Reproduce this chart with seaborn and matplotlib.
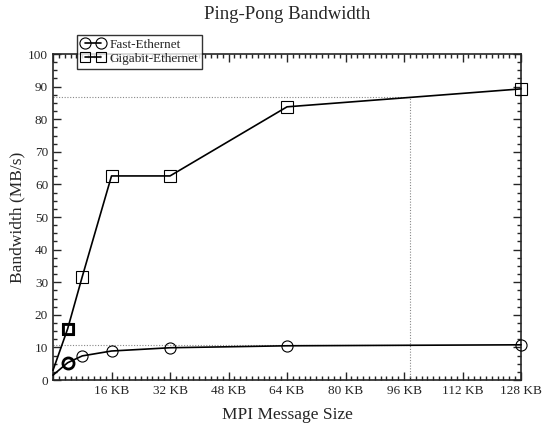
import numpy as np
import pandas as pd
import seaborn as sns
import matplotlib.pyplot as plt
from matplotlib.lines import Line2D
from matplotlib.ticker import MultipleLocator, FuncFormatter

# Message sizes in KB
sizes_kb = [0, 4, 8, 16, 32, 64, 128]
fast_ethernet = [1.5, 5.3, 7.4, 8.9, 9.9, 10.5, 10.8]
gigabit_ethernet = [3.0, 15.7, 31.7, 62.6, 62.6, 83.8, 89.3]
series_names = ["Fast-Ethernet", "Gigabit-Ethernet"]

# dotted guide lines at ~100000 bytes
guide_x = 97.66
guide_y = [86.9, 10.7]

df = pd.DataFrame({
    "size": sizes_kb * 2,
    "bw": fast_ethernet + gigabit_ethernet,
    "net": [series_names[0]] * len(sizes_kb) + [series_names[1]] * len(sizes_kb),
})

sns.set_style("ticks")
plt.rcParams["font.family"] = ["Liberation Serif", "DejaVu Serif"]

fig = plt.figure(figsize=(5.42, 4.28), dpi=100)
ax = fig.add_axes([0.0978, 0.1121, 0.8635, 0.7617])

# guide lines
for gy in guide_y:
    ax.plot([0, guide_x], [gy, gy], color="#888888", lw=0.8, ls=(0, (1, 1.5)), zorder=1)
ax.plot([guide_x, guide_x], [0, guide_y[0]], color="#888888", lw=0.8, ls=(0, (1, 1.5)), zorder=1)

sns.lineplot(data=df, x="size", y="bw", hue="net", style="net",
             palette=["black", "black"], markers={"Fast-Ethernet": "o", "Gigabit-Ethernet": "s"},
             dashes=False, legend=False, ax=ax, lw=1.2, markersize=8,
             mfc="none", markeredgecolor="black", markeredgewidth=0.8,
             markevery=slice(1, None), clip_on=False, zorder=3)

# bold first markers
ax.plot(sizes_kb[1], fast_ethernet[1], "o", ms=8, mfc="none", mec="black", mew=2, zorder=4)
ax.plot(sizes_kb[1], gigabit_ethernet[1], "s", ms=7.5, mfc="none", mec="black", mew=2, zorder=4)

ax.set_xlim(0, 128)
ax.set_ylim(0, 100)
ax.xaxis.set_major_locator(MultipleLocator(16))
ax.xaxis.set_minor_locator(MultipleLocator(1.6))
ax.yaxis.set_major_locator(MultipleLocator(10))
ax.yaxis.set_minor_locator(MultipleLocator(2.5))
ax.xaxis.set_major_formatter(FuncFormatter(lambda v, p: "" if v == 0 else f"{int(v)} KB"))
ax.tick_params(which="both", direction="in", top=True, right=True, labelsize=9.5, width=1)
ax.tick_params(which="major", length=6)
ax.tick_params(which="minor", length=3)
for s in ax.spines.values():
    s.set_linewidth(1.2)

ax.set_xlabel("MPI Message Size", fontsize=12.5, labelpad=7)
ax.set_ylabel("Bandwidth (MB/s)", fontsize=12.5, labelpad=2)
ax.set_title("Ping-Pong Bandwidth", fontsize=13.5, pad=25)

handles = [
    Line2D([0], [0], color="black", lw=1.2, marker="o", ms=8, mfc="none", mec="black", mew=0.8),
    Line2D([0], [0], color="black", lw=1.2, marker="s", ms=7.5, mfc="none", mec="black", mew=0.8),
]
leg = fig.legend(handles, series_names, loc="upper left", bbox_to_anchor=(0.142, 0.919),
                 fontsize=9.5, frameon=True, fancybox=False, edgecolor="black",
                 numpoints=2, handlelength=1.85, handletextpad=0.3, borderpad=0.3,
                 labelspacing=0.15, borderaxespad=0)
leg.get_frame().set_linewidth(1.0)
leg.set_zorder(10)

fig.savefig("out.png", dpi=100, facecolor="white")
